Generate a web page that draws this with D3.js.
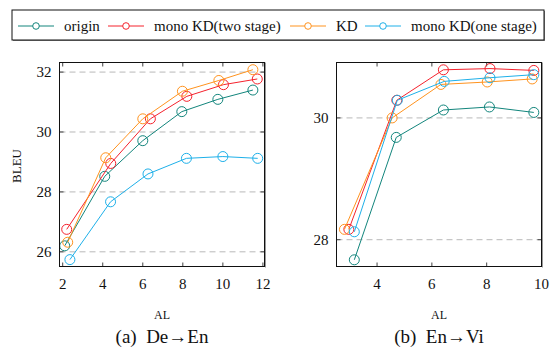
<html>
<head>
<script src="https://d3js.org/d3.v7.min.js"></script>
<style>
  body { margin: 0; background: white; }
</style>
</head>
<body>
<script>

var seriesNames = ['origin', 'mono KD(two stage)', 'KD', 'mono KD(one stage)'];
var seriesColors = ['#12857c', '#f5222d', '#ff931e', '#1eb0e9'];

// De->En : [AL, BLEU]
var deEnOrigin = [[2.1, 26.2], [4.1, 28.52], [6.0, 29.71], [7.95, 30.68], [9.75, 31.09], [11.5, 31.4]];
var deEnTwoStage = [[2.2, 26.75], [4.4, 28.95], [6.38, 30.44], [8.2, 31.19], [10.03, 31.58], [11.72, 31.77]];
var deEnKD = [[2.25, 26.32], [4.15, 29.14], [6.0, 30.44], [7.98, 31.36], [9.8, 31.72], [11.5, 32.08]];
var deEnOneStage = [[2.36, 25.74], [4.39, 27.67], [6.26, 28.6], [8.18, 29.12], [10.0, 29.18], [11.74, 29.12]];

// En->Vi : [AL, BLEU]
var enViOrigin = [[3.17, 27.67], [4.7, 29.68], [6.42, 30.13], [8.1, 30.18], [9.72, 30.09]];
var enViTwoStage = [[2.97, 28.17], [4.72, 30.29], [6.42, 30.79], [8.12, 30.81], [9.72, 30.78]];
var enViKD = [[2.81, 28.17], [4.55, 30.0], [6.33, 30.55], [8.02, 30.59], [9.66, 30.64]];
var enViOneStage = [[3.17, 28.13], [4.74, 30.29], [6.45, 30.6], [8.12, 30.66], [9.72, 30.71]];

var deEnXTicks = [2, 4, 6, 8, 10, 12];
var deEnYTicks = [26, 28, 30, 32];
var enViXTicks = [4, 6, 8, 10];
var enViYTicks = [28, 30];

var serif = "'Liberation Serif', 'Times New Roman', Times, serif";

var svg = d3.select('body').append('svg')
    .attr('width', 553)
    .attr('height', 351)
    .style('font-family', serif);

// legend box
var legend = svg.append('g');
legend.append('rect')
    .attr('x', 13).attr('y', 11).attr('width', 532).attr('height', 30)
    .attr('fill', '#888');
legend.append('rect')
    .attr('x', 12).attr('y', 10).attr('width', 532).attr('height', 30)
    .attr('fill', 'white').attr('stroke', '#111').attr('stroke-width', 1);

var legendX = [18, 108, 290, 365];
seriesNames.forEach(function(name, i) {
    var g = legend.append('g').attr('transform', 'translate(' + legendX[i] + ',26)');
    g.append('line').attr('x1', 0).attr('x2', 36).attr('y1', 0).attr('y2', 0)
        .attr('stroke', seriesColors[i]).attr('stroke-width', 1);
    g.append('circle').attr('cx', 18).attr('cy', 0).attr('r', 3.3)
        .attr('fill', 'white').attr('stroke', seriesColors[i]).attr('stroke-width', 1);
    g.append('text').attr('x', 46).attr('y', 5).attr('font-size', 15).attr('fill', '#111').text(name);
});

function drawPanel(opts) {
    var x = d3.scaleLinear().domain(opts.xDomain).range([opts.left, opts.right]);
    var y = d3.scaleLinear().domain(opts.yDomain).range([opts.bottom, opts.top]);
    var g = svg.append('g');

    // dashed grid at y ticks
    g.selectAll('.grid').data(opts.yTicks).enter().append('line')
        .attr('x1', opts.left).attr('x2', opts.right)
        .attr('y1', function(d) { return y(d); }).attr('y2', function(d) { return y(d); })
        .attr('stroke', '#b8b8b8').attr('stroke-width', 1).attr('stroke-dasharray', '6,4');

    // inward ticks on all sides
    var tl = 4;
    opts.xTicks.forEach(function(t) {
        g.append('line').attr('x1', x(t)).attr('x2', x(t)).attr('y1', opts.bottom).attr('y2', opts.bottom - tl)
            .attr('stroke', '#444');
        g.append('line').attr('x1', x(t)).attr('x2', x(t)).attr('y1', opts.top).attr('y2', opts.top + tl)
            .attr('stroke', '#444');
    });
    opts.yTicks.forEach(function(t) {
        g.append('line').attr('x1', opts.left).attr('x2', opts.left + tl).attr('y1', y(t)).attr('y2', y(t))
            .attr('stroke', '#444');
        g.append('line').attr('x1', opts.right).attr('x2', opts.right - tl).attr('y1', y(t)).attr('y2', y(t))
            .attr('stroke', '#444');
    });

    // tick labels
    g.selectAll('.xl').data(opts.xTicks).enter().append('text')
        .attr('x', function(d) { return x(d); }).attr('y', opts.bottom + 22)
        .attr('text-anchor', 'middle').attr('font-size', 15).attr('fill', '#111')
        .text(function(d) { return d; });
    g.selectAll('.yl').data(opts.yTicks).enter().append('text')
        .attr('x', opts.left - 8).attr('y', function(d) { return y(d) + 5; })
        .attr('text-anchor', 'end').attr('font-size', 15).attr('fill', '#111')
        .text(function(d) { return d; });

    // series
    var line = d3.line().x(function(d) { return x(d[0]); }).y(function(d) { return y(d[1]); });
    opts.series.forEach(function(s, i) {
        g.append('path').datum(s).attr('d', line)
            .attr('fill', 'none').attr('stroke', seriesColors[i]).attr('stroke-width', 1);
        g.selectAll('.m' + i).data(s).enter().append('circle')
            .attr('cx', function(d) { return x(d[0]); })
            .attr('cy', function(d) { return y(d[1]); })
            .attr('r', 5).attr('fill', 'none')
            .attr('stroke', seriesColors[i]).attr('stroke-width', 1);
    });

    // frame
    g.append('line').attr('x1', opts.right + 1).attr('x2', opts.right + 1)
        .attr('y1', opts.top).attr('y2', opts.bottom + 1).attr('stroke', '#999');
    g.append('rect').attr('x', opts.left).attr('y', opts.top)
        .attr('width', opts.right - opts.left).attr('height', opts.bottom - opts.top)
        .attr('fill', 'none').attr('stroke', '#111').attr('stroke-width', 1);

    var cx = (opts.left + opts.right) / 2;
    g.append('text').attr('x', cx).attr('y', 319).attr('text-anchor', 'middle')
        .attr('font-size', 12).attr('fill', '#111').text('AL');
    g.append('text').attr('x', cx).attr('y', 343).attr('text-anchor', 'middle')
        .attr('font-size', 19).attr('fill', '#111').attr('xml:space', 'preserve')
        .text(opts.caption);
}

drawPanel({
    left: 59.5, right: 264.5, top: 62.5, bottom: 266.5,
    xDomain: [1.84, 12.08], yDomain: [25.51, 32.32],
    xTicks: deEnXTicks, yTicks: deEnYTicks,
    series: [deEnOrigin, deEnTwoStage, deEnKD, deEnOneStage],
    caption: '(a)\u2002De\u2192En'
});

drawPanel({
    left: 336.5, right: 541.5, top: 62.5, bottom: 266.5,
    xDomain: [2.52, 10.0], yDomain: [27.56, 30.91],
    xTicks: enViXTicks, yTicks: enViYTicks,
    series: [enViOrigin, enViTwoStage, enViKD, enViOneStage],
    caption: '(b)\u2002En\u2192Vi'
});

svg.append('text')
    .attr('transform', 'translate(21,166) rotate(-90)')
    .attr('text-anchor', 'middle').attr('font-size', 13).attr('fill', '#111')
    .text('BLEU');

</script>
</body>
</html>
